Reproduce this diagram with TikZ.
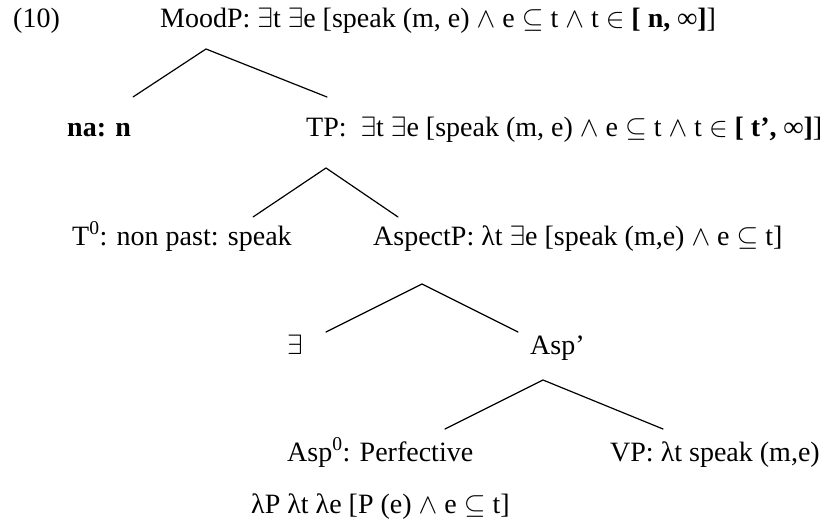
\RequirePackage{fix-cm}
\documentclass[tikz,border=0pt]{standalone}
\usepackage{fontspec}
\setmainfont{Liberation Serif}
\begin{document}
\begin{tikzpicture}[x=1pt,y=-1pt,
  lbl/.style={anchor=base west,inner sep=0pt,font=\fontsize{28}{34}\selectfont},
  branch/.style={line width=1.2pt,line cap=round}]
\useasboundingbox (0,0) rectangle (837,521);
% labels
\node[lbl] (n10) at (13,28) {(10)};
\node[lbl] (mood) at (160,28) {MoodP: $\exists$t $\exists$e [speak (m, e) $\wedge$ e $\subseteq$ t $\wedge$ t $\in$ \textbf{[ n, ∞]}]};
\node[lbl] (na) at (67,137) {\textbf{na: n}};
\node[lbl] (tp) at (306,137) {TP:\ \ $\exists$t $\exists$e [speak (m, e) $\wedge$ e $\subseteq$ t $\wedge$ t $\in$ \textbf{[ t’, ∞]}]};
\node[lbl] (t0) at (72,245) {T\textsuperscript{0}: non past: speak};
\node[lbl] (asp) at (373,245) {AspectP: λt $\exists$e [speak (m,e) $\wedge$ e $\subseteq$ t]};
\node[lbl] (ex) at (287,354) {$\exists$};
\node[lbl] (aspbar) at (530,354) {Asp’};
\node[lbl] (asp0) at (287,461) {Asp\textsuperscript{0}: Perfective};
\node[lbl] (vp) at (610,461) {VP: λt speak (m,e)};
\node[lbl] (lam) at (251,513) {λP λt λe [P (e) $\wedge$ e $\subseteq$ t]};
% branch points
\coordinate (moodA) at (206,49);
\coordinate (naE) at (133,97);
\coordinate (tpE) at (327,97);
\coordinate (tpA) at (326,168);
\coordinate (t0E) at (253,217);
\coordinate (aspE) at (398,217);
\coordinate (aspA) at (422,284);
\coordinate (exE) at (326,332);
\coordinate (barE) at (518,332);
\coordinate (barA) at (543,380);
\coordinate (asp0E) at (445,429);
\coordinate (vpE) at (663,429);
\draw[branch] (naE) -- (moodA) -- (tpE);
\draw[branch] (t0E) -- (tpA) -- (aspE);
\draw[branch] (exE) -- (aspA) -- (barE);
\draw[branch] (asp0E) -- (barA) -- (vpE);
\end{tikzpicture}
\end{document}
